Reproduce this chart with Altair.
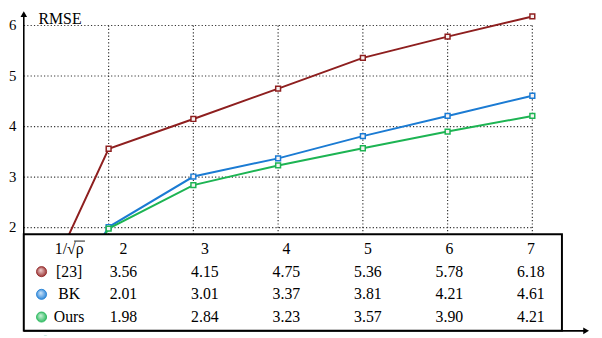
import altair as alt
import pandas as pd

# ---------------- data ----------------
x_vals = [1, 2, 3, 4, 5, 6, 7]
ref23 = [-0.07, 3.56, 4.15, 4.75, 5.36, 5.78, 6.18]
bk = [-0.85, 2.01, 3.01, 3.37, 3.81, 4.21, 4.61]
ours = [-0.88, 1.98, 2.84, 3.23, 3.57, 3.90, 4.21]
series_names = ["[23]", "BK", "Ours"]
series_colors = ["#8E1F1F", "#1B7BD3", "#1DB453"]
series_light = ["#F3D6D6", "#CFE6FA", "#CFF3DC"]
y_ticks = [2, 3, 4, 5, 6]
x_ticks = [2, 3, 4, 5, 6, 7]
header_label = "1/√ρ"
y_title = "RMSE"

FONT = "Liberation Serif"
W, H = 594, 330

xs = alt.Scale(domain=[2, 7], range=[102, 531.5])
ys = alt.Scale(domain=[2, 6], range=[220.3, 15.5])
xt = alt.Scale(domain=[2, 7], range=[117, 530])
yt = alt.Scale(domain=[0, 3], range=[242, 311])
cs = alt.Scale(domain=series_names, range=series_colors)

rows = []
for i, (name, vals) in enumerate(zip(series_names, [ref23, bk, ours])):
    for x, v in zip(x_vals, vals):
        rows.append({"x": x, "value": v, "series": name, "row": i + 1})
df = pd.DataFrame(rows)
df_pts = df[df.x >= 2]
one = pd.DataFrame({"k": [0]})

dot = dict(strokeDash=[1.2, 2.2], color="#333333", strokeWidth=1.2)

hgrid = alt.Chart(pd.DataFrame({"y": y_ticks})).mark_rule(**dot).encode(
    x=alt.XDatum(1, scale=xs, axis=None),
    x2=alt.X2Datum(7),
    y=alt.Y("y:Q", scale=ys, axis=None),
)
vgrid = alt.Chart(pd.DataFrame({"x": x_ticks})).mark_rule(**dot).encode(
    x=alt.X("x:Q", scale=xs, axis=None),
    y=alt.YDatum(6, scale=ys, axis=None),
    y2=alt.Y2Datum(1.87),
)

lines = alt.Chart(df).mark_line(strokeWidth=2, clip=True).encode(
    x=alt.X("x:Q", scale=xs, axis=None),
    y=alt.Y("value:Q", scale=ys, axis=None),
    color=alt.Color("series:N", scale=cs, legend=None),
)
pts = alt.Chart(df_pts).mark_point(shape="square", size=24, filled=True, strokeWidth=1.5, opacity=1).encode(
    x=alt.X("x:Q", scale=xs, axis=None),
    y=alt.Y("value:Q", scale=ys, axis=None),
    stroke=alt.Stroke("series:N", scale=cs, legend=None),
    fill=alt.value("#F7F2F2"),
)

box = alt.Chart(one).mark_rect(fill="white", stroke="black", strokeWidth=2).encode(
    x=alt.value(16), x2=alt.value(561.5), y=alt.value(227), y2=alt.value(325)
)
strip = alt.Chart(one).mark_rect(fill="white").encode(
    x=alt.value(0), x2=alt.value(W), y=alt.value(326), y2=alt.value(H)
)
yaxis = alt.Chart(one).mark_rule(color="black", strokeWidth=1.6).encode(
    x=alt.value(16), y=alt.value(5), y2=alt.value(227)
)
yarrow = alt.Chart(one).mark_point(shape="triangle-up", filled=True, size=45, color="black", opacity=1).encode(
    x=alt.value(16), y=alt.value(4)
)
xaxis = alt.Chart(one).mark_rule(color="black", strokeWidth=1.6).encode(
    x=alt.value(16), x2=alt.value(586), y=alt.value(325)
)
xarrow = alt.Chart(one).mark_point(shape="triangle-right", filled=True, size=45, color="black", opacity=1).encode(
    x=alt.value(586), y=alt.value(325)
)

ytick_lbl = alt.Chart(pd.DataFrame({"y": y_ticks})).mark_text(
    font=FONT, fontSize=15, align="left", baseline="middle", color="black"
).encode(x=alt.value(1), y=alt.Y("y:Q", scale=ys, axis=None), text="y:Q")

ytitle = alt.Chart(one).mark_text(
    font=FONT, fontSize=16, align="left", baseline="top", color="black", text=y_title
).encode(x=alt.value(31), y=alt.value(0.5))

header = alt.Chart(pd.DataFrame({"x": x_ticks})).mark_text(
    font=FONT, fontSize=16, align="center", baseline="middle", color="black"
).encode(x=alt.X("x:Q", scale=xt, axis=None), y=alt.YDatum(0, scale=yt, axis=None), text="x:Q")

header_lbl = alt.Chart(one).mark_text(
    font=FONT, fontSize=16, align="center", baseline="middle", color="black", text=header_label
).encode(x=alt.value(62), y=alt.YDatum(0, scale=yt, axis=None))

overline = alt.Chart(one).mark_rule(color="black", strokeWidth=0.9).encode(
    x=alt.value(67), x2=alt.value(78), y=alt.value(234)
)

cells = alt.Chart(df_pts).mark_text(
    font=FONT, fontSize=16, align="center", baseline="middle", color="black"
).encode(
    x=alt.X("x:Q", scale=xt, axis=None),
    y=alt.Y("row:Q", scale=yt, axis=None),
    text=alt.Text("value:Q", format=".2f"),
)

lab_df = pd.DataFrame({"series": series_names, "row": [1, 2, 3]})
row_lbl = alt.Chart(lab_df).mark_text(
    font=FONT, fontSize=16, align="center", baseline="middle", color="black"
).encode(x=alt.value(62), y=alt.Y("row:Q", scale=yt, axis=None), text="series:N")

balls = []
for i, (c, lc) in enumerate(zip(series_colors, series_light)):
    grad = alt.RadialGradient(
        gradient="radial",
        stops=[alt.GradientStop(color=lc, offset=0), alt.GradientStop(color=c, offset=1)],
        x1=0.4, y1=0.35, r1=0, x2=0.5, y2=0.5, r2=0.6,
    )
    balls.append(
        alt.Chart(pd.DataFrame({"row": [i + 1]})).mark_point(
            shape="circle", filled=True, size=105, fill=grad, stroke=c, strokeWidth=0.8, opacity=1
        ).encode(x=alt.value(34), y=alt.Y("row:Q", scale=yt, axis=None))
    )

chart = alt.layer(
    hgrid, vgrid, lines, pts, box, strip, yaxis, yarrow, xaxis, xarrow,
    ytick_lbl, ytitle, header, header_lbl, overline, cells, row_lbl, *balls
).resolve_scale(x="independent", y="independent").properties(
    width=W, height=H, autosize=alt.AutoSizeParams(type="none"), padding=0
).configure_view(stroke=None)

chart.save("out.html", embed_options={"renderer": "svg", "actions": False})
